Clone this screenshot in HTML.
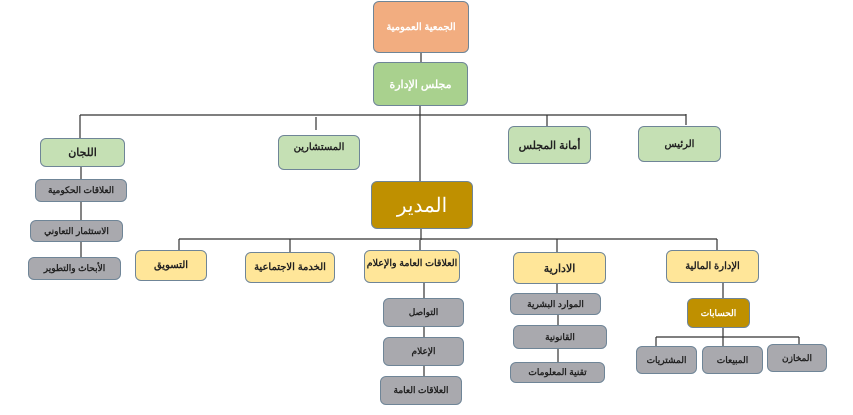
<!DOCTYPE html>
<html><head><meta charset="utf-8"><style>
body{margin:0;width:853px;height:415px;background:#fff;position:relative;overflow:hidden;font-family:"Liberation Sans","Noto Sans CJK SC",sans-serif;}
.b{position:absolute;box-sizing:border-box;border:1.5px solid #6f8597;border-radius:6px;display:flex;align-items:center;justify-content:center;font-weight:bold;font-size:10px;color:#222;direction:rtl;white-space:nowrap}
.o{background:#f2ad80;color:#fff}
.g{background:#a9d18e;color:#fff}
.lg{background:#c5e0b4}
.gold{background:#bf9000;color:#fff}
.y{background:#ffe699}
.gr{background:#a9a9ae;font-size:9px}
svg{position:absolute;left:0;top:0}
</style></head><body>
<svg width="853" height="415" stroke="#333" stroke-width="1.2" fill="none">
<path d="M421 40V62 M420 106V182 M80 115H686 M80 115V139 M316 117V130 M547 115V126 M686 114V125"/>
<path d="M421 229V240 M179 239H717 M179 239V251 M290 239V252 M420 240V250 M557 239V252 M717 239V250"/>
<path d="M81 167V258 M424 283V376 M557 284V294 M558 315V383 M723 283V298 M723 328V338 M656 337H799 M656 337V346 M799 337V344 M723 338V346"/>
</svg>
<div class="b o" style="left:373px;top:1px;width:96px;height:52px">الجمعية العمومية</div>
<div class="b g" style="left:373px;top:62px;width:95px;height:44px;font-size:11px">مجلس الإدارة</div>
<div class="b lg" style="left:40px;top:138px;width:85px;height:29px;font-size:11px">اللجان</div>
<div class="b lg" style="left:278px;top:135px;width:82px;height:35px;align-items:flex-start;padding-top:6px">المستشارين</div>
<div class="b lg" style="left:508px;top:126px;width:83px;height:38px;font-size:11px">أمانة المجلس</div>
<div class="b lg" style="left:638px;top:126px;width:83px;height:36px">الرئيس</div>
<div class="b gold" style="left:371px;top:181px;width:102px;height:48px;font-size:20px;font-weight:normal">المدير</div>
<div class="b y" style="left:135px;top:250px;width:72px;height:31px">التسويق</div>
<div class="b y" style="left:245px;top:252px;width:90px;height:31px">الخدمة الاجتماعية</div>
<div class="b y" style="left:364px;top:250px;width:96px;height:33px;align-items:flex-start;padding-top:7px;font-size:9.5px">العلاقات العامة والإعلام</div>
<div class="b y" style="left:513px;top:252px;width:93px;height:32px;font-size:11px">الادارية</div>
<div class="b y" style="left:666px;top:250px;width:93px;height:33px">الإدارة المالية</div>
<div class="b gr" style="left:35px;top:179px;width:92px;height:23px">العلاقات الحكومية</div>
<div class="b gr" style="left:30px;top:220px;width:93px;height:22px">الاستثمار التعاوني</div>
<div class="b gr" style="left:28px;top:257px;width:93px;height:23px">الأبحاث والتطوير</div>
<div class="b gr" style="left:383px;top:298px;width:81px;height:29px">التواصل</div>
<div class="b gr" style="left:383px;top:337px;width:81px;height:29px">الإعلام</div>
<div class="b gr" style="left:380px;top:376px;width:82px;height:29px">العلاقات العامة</div>
<div class="b gr" style="left:510px;top:293px;width:91px;height:22px">الموارد البشرية</div>
<div class="b gr" style="left:513px;top:325px;width:94px;height:24px">القانونية</div>
<div class="b gr" style="left:510px;top:362px;width:95px;height:21px">تقنية المعلومات</div>
<div class="b gold" style="left:687px;top:298px;width:63px;height:30px;font-size:9px">الحسابات</div>
<div class="b gr" style="left:636px;top:346px;width:61px;height:28px">المشتريات</div>
<div class="b gr" style="left:702px;top:346px;width:61px;height:28px">المبيعات</div>
<div class="b gr" style="left:767px;top:344px;width:60px;height:28px">المخازن</div>
</body></html>
